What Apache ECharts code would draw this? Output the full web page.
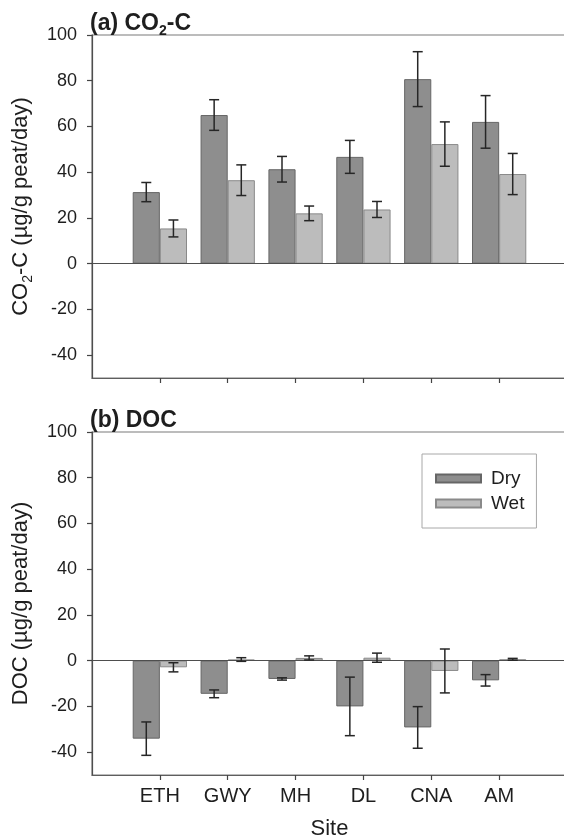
<!DOCTYPE html>
<html>
<head>
<meta charset="utf-8">
<script src="https://cdn.jsdelivr.net/npm/echarts@6/dist/echarts.min.js"></script>
<style>
  html, body { margin: 0; padding: 0; background: #fff; }
  #chart { width: 564px; height: 839px; }
</style>
</head>
<body>
<div id="chart"></div>
<script>
// Sites along the x axis
const sites = ['ETH', 'GWY', 'MH', 'DL', 'CNA', 'AM'];
// Tick values on both y axes
const yTicks = [-40, -20, 0, 20, 40, 60, 80, 100];

// (a) CO2-C release, µg/g peat/day: means and standard errors
const co2Dry = [31.3, 65.0, 41.3, 46.7, 80.7, 62.0];
const co2DryErr = [4.2, 6.7, 5.6, 7.2, 12.0, 11.5];
const co2Wet = [15.4, 36.5, 22.0, 23.7, 52.3, 39.2];
const co2WetErr = [3.7, 6.7, 3.2, 3.5, 9.7, 9.0];

// (b) DOC release, µg/g peat/day: means and standard errors
const docDry = [-34.1, -14.5, -8.0, -20.0, -29.2, -8.6];
const docDryErr = [7.3, 1.7, 0.5, 12.8, 9.1, 2.5];
const docWet = [-2.9, 0.5, 1.2, 1.3, -4.5, 0.6];
const docWetErr = [2.0, 0.8, 0.9, 2.0, 9.6, 0.4];

const FONT = '"Liberation Sans", Arial, Helvetica, sans-serif';
const DRY_FILL = '#8e8e8e', DRY_EDGE = '#666666';
const WET_FILL = '#bcbcbc', WET_EDGE = '#8a8a8a';

// Category slots: one empty slot at each end of the axis
const slots = [''].concat(sites, ['']);
const padded = arr => [null].concat(arr, [null]);
const errData = (means, errs) => means.map((m, i) => [i + 1, m - errs[i], m + errs[i]]);

function errorBars(side) {
  return function (params, api) {
    const band = api.size([1, 0])[0];
    const idx = api.value(0);
    const x = api.coord([idx, 0])[0] + side * band * 0.2;
    const yLo = api.coord([idx, api.value(1)])[1];
    const yHi = api.coord([idx, api.value(2)])[1];
    const cap = 5;
    const style = { stroke: '#262626', lineWidth: 1.5 };
    return {
      type: 'group',
      children: [
        { type: 'line', shape: { x1: x, y1: yLo, x2: x, y2: yHi }, style },
        { type: 'line', shape: { x1: x - cap, y1: yHi, x2: x + cap, y2: yHi }, style },
        { type: 'line', shape: { x1: x - cap, y1: yLo, x2: x + cap, y2: yLo }, style }
      ]
    };
  };
}

const richLabel = {
  t: { fontSize: 22, fontFamily: FONT, color: '#1e1e1e', lineHeight: 28 },
  s: { fontSize: 14, fontFamily: FONT, color: '#1e1e1e', lineHeight: 14, verticalAlign: 'bottom' }
};
const richTitle = {
  t: { fontSize: 23, fontFamily: FONT, fontWeight: 'bold', color: '#1e1e1e', lineHeight: 28 },
  s: { fontSize: 14, fontFamily: FONT, fontWeight: 'bold', color: '#1e1e1e', lineHeight: 14, verticalAlign: 'bottom' }
};

function xAxisFor(gridIndex, showLabels) {
  return {
    type: 'category',
    gridIndex,
    data: slots,
    boundaryGap: false,
    position: 'bottom',
    axisLine: { onZero: false, lineStyle: { color: '#5e5e5e', width: 1.2 } },
    axisTick: {
      show: true,
      inside: false,
      length: 5,
      interval: (i) => i > 0 && i < slots.length - 1,
      lineStyle: { color: '#444', width: 1.2 }
    },
    axisLabel: {
      show: showLabels,
      interval: 0,
      margin: 11,
      fontSize: 20,
      fontFamily: FONT,
      color: '#1e1e1e'
    },
    splitLine: { show: false },
    name: showLabels ? 'Site' : '',
    nameLocation: 'middle',
    nameGap: 43,
    nameTextStyle: { fontSize: 22, fontFamily: FONT, color: '#1e1e1e' }
  };
}

function yAxisFor(gridIndex, name) {
  return {
    type: 'value',
    gridIndex,
    min: -50,
    max: 100,
    axisLine: { show: true, lineStyle: { color: '#4e4e4e', width: 1.2 } },
    axisTick: {
      show: true,
      length: 5,
      customValues: yTicks,
      lineStyle: { color: '#444', width: 1.2 }
    },
    axisLabel: {
      customValues: yTicks,
      margin: 15,
      fontSize: 18,
      fontFamily: FONT,
      color: '#1e1e1e'
    },
    splitLine: { show: false },
    name,
    nameLocation: 'middle',
    nameRotate: 90,
    nameGap: 57,
    nameTextStyle: { rich: richLabel }
  };
}

function barSeries(name, values, fill, edge, axis, withZero) {
  const s = {
    name,
    type: 'bar',
    xAxisIndex: axis,
    yAxisIndex: axis,
    data: padded(values),
    barWidth: '40%',
    barGap: '0%',
    itemStyle: { color: fill, borderColor: edge, borderWidth: 1 },
    emphasis: { disabled: true },
    z: 2
  };
  if (withZero) {
    s.markLine = {
      silent: true,
      symbol: ['none', 'none'],
      label: { show: false },
      lineStyle: { color: '#4e4e4e', type: 'solid', width: 1.2 },
      emphasis: { disabled: true },
      data: [{ yAxis: 0 }]
    };
  }
  return s;
}

function errSeries(means, errs, side, axis) {
  return {
    type: 'custom',
    xAxisIndex: axis,
    yAxisIndex: axis,
    data: errData(means, errs),
    encode: { x: 0, y: [1, 2] },
    renderItem: errorBars(side),
    silent: true,
    z: 5
  };
}

const gridBase = {
  left: 92, right: -3, height: 343,
  outerBoundsMode: 'none',
  containLabel: false,
  show: true, borderColor: '#7a7a7a', borderWidth: 1.2, backgroundColor: 'transparent'
};

const chart = echarts.init(document.getElementById('chart'), null, { renderer: 'canvas' });
chart.setOption({
  animation: false,
  backgroundColor: '#ffffff',
  title: [
    { text: '{t|(a) CO}{s|2}{t|-C}', left: 90, top: 10, padding: 0, textStyle: { rich: richTitle } },
    { text: '{t|(b) DOC}', left: 90, top: 407, padding: 0, textStyle: { rich: richTitle } }
  ],
  legend: {
    data: ['Dry', 'Wet'],
    orient: 'vertical',
    left: 422,
    top: 454,
    padding: [15, 12, 15, 13],
    itemGap: 6,
    itemWidth: 45,
    itemHeight: 8,
    icon: 'rect',
    borderColor: '#a8a8a8',
    borderWidth: 1,
    selectedMode: false,
    textStyle: { fontSize: 19, fontFamily: FONT, color: '#1e1e1e', padding: [0, 0, 0, 5] }
  },
  grid: [
    Object.assign({}, gridBase, { top: 35 }),
    Object.assign({}, gridBase, { top: 432 })
  ],
  xAxis: [xAxisFor(0, false), xAxisFor(1, true)],
  yAxis: [
    yAxisFor(0, '{t|CO}{s|2}{t|-C (µg/g peat/day)}'),
    yAxisFor(1, '{t|DOC (µg/g peat/day)}')
  ],
  series: [
    barSeries('Dry', co2Dry, DRY_FILL, DRY_EDGE, 0, true),
    barSeries('Wet', co2Wet, WET_FILL, WET_EDGE, 0, false),
    errSeries(co2Dry, co2DryErr, -1, 0),
    errSeries(co2Wet, co2WetErr, 1, 0),
    barSeries('Dry', docDry, DRY_FILL, DRY_EDGE, 1, true),
    barSeries('Wet', docWet, WET_FILL, WET_EDGE, 1, false),
    errSeries(docDry, docDryErr, -1, 1),
    errSeries(docWet, docWetErr, 1, 1)
  ]
});
</script>
</body>
</html>
